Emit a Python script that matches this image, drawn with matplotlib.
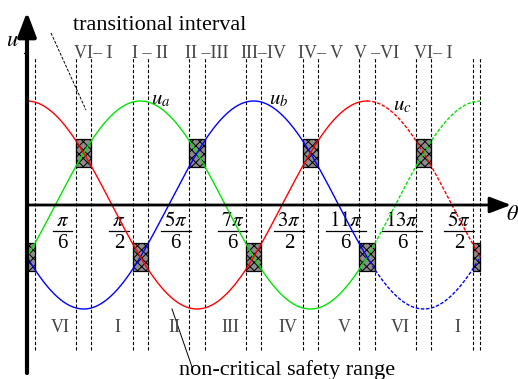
import numpy as np
import matplotlib.pyplot as plt
from matplotlib.patches import Rectangle

plt.rcParams['font.family'] = ['Liberation Serif', 'DejaVu Serif']
plt.rcParams['mathtext.fontset'] = 'stix'
plt.rcParams['hatch.linewidth'] = 0.7

# three phase voltages: name, colour, angle of the positive peak
phase_names = ['u_a', 'u_b', 'u_c']
phase_colors = ['#00e600', '#0000ff', '#ff0000']
phase_peaks = [2 * np.pi / 3, 4 * np.pi / 3, 0.0]

# sector names and the angle ticks written inside each sector
sector_bottom = ['VI', 'I', 'II', 'III', 'IV', 'V', 'VI', 'I']
sector_top = ['VI\u2013 I', 'I \u2013 II', 'II \u2013III', 'III\u2013IV',
              'IV\u2013 V', 'V \u2013VI', 'VI\u2013 I']
tick_num = [r'\pi', r'\pi', r'5\pi', r'7\pi', r'3\pi', r'11\pi', r'13\pi', r'5\pi']
tick_den = ['6', '2', '6', '6', '2', '6', '6', '2']

theta_end = 8 * np.pi / 3      # curves stop here
solid_end = 2 * np.pi          # one full period drawn solid, the rest dashed
half_w = np.deg2rad(8)         # half width of a transitional interval
half_h = 0.13                  # half height of the hatched boxes

# layout of the sheet in pixels: origin, period length, amplitude
X0, Y0, PERIOD, AMP = 27, 205, 340, 104
W, H = 518, 379


def px(x, y):
    return (x - X0) / PERIOD * 2 * np.pi, (Y0 - y) / AMP


fig = plt.figure(figsize=(W / 100, H / 100), dpi=100)
ax = fig.add_axes([0, 0, 1, 1])
ax.set_xlim(px(0, 0)[0], px(W, 0)[0])
ax.set_ylim(px(0, H)[1], px(0, 0)[1])
ax.axis('off')

# phase curves
th_solid = np.linspace(0, solid_end, 600)
th_dash = np.linspace(solid_end, theta_end, 200)
for name, col, pk in zip(phase_names, phase_colors, phase_peaks):
    ax.plot(th_solid, np.cos(th_solid - pk), color=col, lw=1.0, zorder=4)
    ax.plot(th_dash, np.cos(th_dash - pk), color=col, lw=1.0,
            ls=(0, (2.5, 1.2)), zorder=4)

# hatched boxes where two phases cross
for k in range(9):
    c = k * np.pi / 3
    vals = [np.cos(c - pk) for pk in phase_peaks]
    yc = np.median(vals)
    left = max(c - half_w, 0)
    right = min(c + half_w, theta_end)
    ax.add_patch(Rectangle((left, yc - half_h), right - left, 2 * half_h,
                           facecolor='#8c8c8c', edgecolor='black', lw=0.9,
                           hatch='xxxx', zorder=3))

# borders of the transitional intervals
y_top, y_bot = px(0, 58)[1], px(0, 350)[1]
xs = [half_w]
for k in range(1, 8):
    xs += [k * np.pi / 3 - half_w, k * np.pi / 3 + half_w]
xs += [theta_end - half_w, theta_end]
ax.vlines(xs, y_bot, y_top, colors='black', lw=0.8,
          linestyles=(0, (3, 1.8)), zorder=2)

# axes with arrow heads
ax.annotate('', xy=px(511, Y0), xytext=(0, 0),
            arrowprops=dict(arrowstyle='-|>,head_length=1.0,head_width=0.38',
                            mutation_scale=13, lw=2.0, color='black',
                            shrinkA=0, shrinkB=0), zorder=6)
ax.annotate('', xy=(0, px(0, 12)[1]), xytext=(0, px(0, 373)[1]),
            arrowprops=dict(arrowstyle='-|>,head_length=1.05,head_width=0.4',
                            mutation_scale=14, lw=3.0, color='black',
                            shrinkA=0, shrinkB=0), zorder=6)
ax.plot([px(24, 0)[0], 0], [px(0, 53)[1]] * 2, color='black', lw=0.8)

ax.text(*px(12, 42), r'$u$', fontsize=16, ha='center', va='center')
ax.text(*px(512, 216), r'$\theta$', fontsize=16, ha='center', va='center')

# phase labels
for name, pk, dx, yy in zip(phase_names, phase_peaks, [0.38, 0.47, 0.65],
                            [1.01, 1.01, 0.95]):
    pos = pk + dx if pk > 0 else 2 * np.pi + dx
    ax.text(pos, yy, '$' + name + '$', fontsize=15, ha='center', va='center')

# sector names and angle ticks (stacked fractions)
fig.canvas.draw()
renderer = fig.canvas.get_renderer()
inv = ax.transData.inverted()
for i, (lab, num, den) in enumerate(zip(sector_bottom, tick_num, tick_den)):
    mid = np.pi / 6 + i * np.pi / 3
    ax.text(mid + 0.1, px(0, 328)[1], lab, fontsize=13, color='#444444',
            ha='center', va='center')
    xc = mid + 0.13
    tn = ax.text(xc, px(0, 221)[1], '$' + num + '$', fontsize=15,
                 ha='center', va='center')
    ax.text(xc, px(0, 244)[1], den, fontsize=15, ha='center', va='center')
    bb = tn.get_window_extent(renderer)
    half = (bb.width / 2 + 3) / PERIOD * 2 * np.pi
    ax.plot([xc - half, xc + half], [px(0, 231)[1]] * 2, color='black', lw=0.9)
for i, lab in enumerate(sector_top):
    ax.text((i + 1) * np.pi / 3 + 0.18, px(0, 53)[1], lab, fontsize=13,
            color='#444444', ha='center', va='center')

# annotations
ax.text(*px(73, 25), 'transitional interval', fontsize=16,
        ha='left', va='center')
ax.plot(*zip(px(51, 33), px(86, 110)), color='black', lw=0.7,
        ls=(0, (3, 1.5)))
ax.text(*px(287, 370), 'non-critical safety range', fontsize=16,
        ha='center', va='center')
ax.plot(*zip(px(172, 309), px(192, 367)), color='black', lw=0.7)

fig.savefig('out.png', dpi=100)
